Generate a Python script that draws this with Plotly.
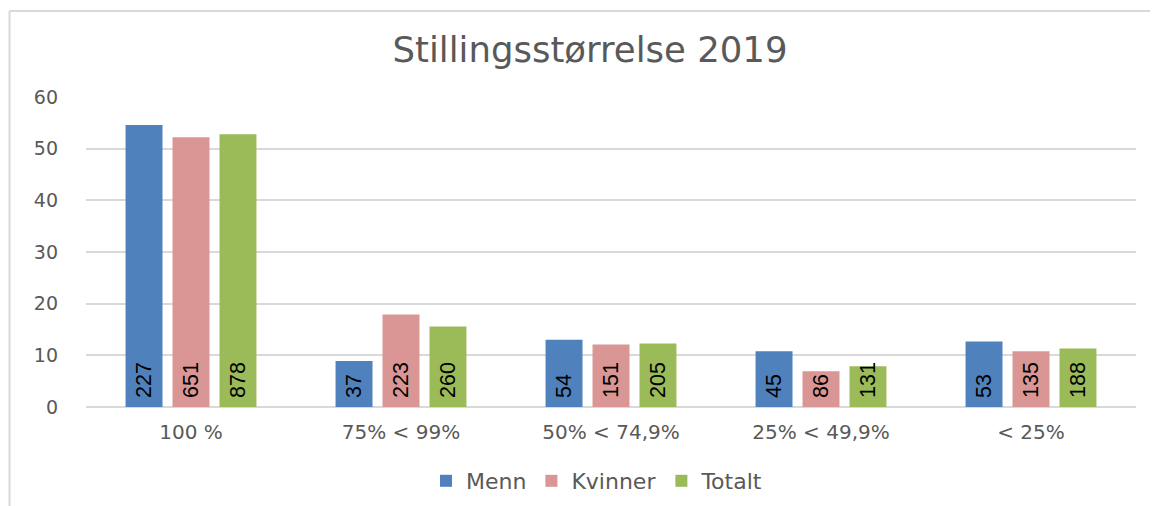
import plotly.graph_objects as go

categories = ["100 %", "75% < 99%", "50% < 74,9%", "25% < 49,9%", "< 25%"]
series_names = ["Menn", "Kvinner", "Totalt"]
menn_pct = [54.6, 8.9, 13.0, 10.8, 12.7]
kvinner_pct = [52.2, 17.9, 12.1, 6.9, 10.8]
totalt_pct = [52.8, 15.6, 12.3, 7.9, 11.3]
menn_n = [227, 37, 54, 45, 53]
kvinner_n = [651, 223, 151, 86, 135]
totalt_n = [878, 260, 205, 131, 188]
y_ticks = [0, 10, 20, 30, 40, 50, 60]
title_text = "Stillingsstørrelse 2019"

colors = ["#4F81BD", "#D99694", "#9BBB59"]
values = [menn_pct, kvinner_pct, totalt_pct]
counts = [menn_n, kvinner_n, totalt_n]

# page body has an 8px margin; work in figure coordinates
OFF = 8
W, H = 1150, 498
L, T = 86 - OFF, 97 - OFF
R = W - (1136 - OFF)
B = H - (407 - OFF)
pw, ph = W - L - R, H - T - B
base_y = 407 - OFF  # y pixel of value 0 in figure coords


def px_x(x):
    return (x - L) / pw


def px_y(y):
    return (base_y - y) / ph


fig = go.Figure()
for name, vals, cnt, col in zip(series_names, values, counts, colors):
    fig.add_trace(go.Bar(
        name=name, x=categories, y=vals, marker_color=col,
        marker_line_width=0,
        text=["\u00a0" + str(c) for c in cnt],
        textposition="inside", insidetextanchor="start", textangle=-90,
        constraintext="none",
        textfont=dict(family="Liberation Sans, Arial, sans-serif", size=21.5, color="#000000"),
        hoverinfo="skip",
    ))

grid = "#D9D9D9"
fig.update_layout(
    width=W, height=H,
    margin=dict(l=L, r=R, t=T, b=B, autoexpand=False),
    paper_bgcolor="white", plot_bgcolor="white",
    barmode="group", bargap=0.329, bargroupgap=0.213,
    title=dict(text=title_text, x=(590 - OFF) / W, xanchor="center", y=1 - (50 - OFF) / H, yanchor="middle",
               font=dict(family="DejaVu Sans", size=35.5, color="#595959")),
    font=dict(family="DejaVu Sans", color="#595959"),
    showlegend=True,
    legend=dict(orientation="h", x=px_x(597 - OFF), xanchor="center", y=px_y(481 - OFF), yanchor="middle",
                font=dict(family="DejaVu Sans", size=22, color="#595959"),
                itemsizing="constant", traceorder="normal", itemwidth=30),
    xaxis=dict(showgrid=False, showline=False, ticks="",
               tickfont=dict(family="DejaVu Sans", size=20, color="#595959"),
               ticklabelstandoff=11),
    yaxis=dict(range=[0, 60], tickvals=y_ticks, showgrid=True, gridcolor=grid, gridwidth=1.5,
               zeroline=True, zerolinecolor=grid, zerolinewidth=1.5, showline=False, ticks="",
               tickfont=dict(family="DejaVu Sans", size=19, color="#595959"),
               ticklabelstandoff=27),
    shapes=[
        dict(type="line", xref="paper", yref="paper",
             x0=px_x(9.5 - OFF), x1=px_x(W + 5), y0=px_y(11 - OFF), y1=px_y(11 - OFF),
             line=dict(color=grid, width=2)),
        dict(type="line", xref="paper", yref="paper",
             x0=px_x(9.5 - OFF), x1=px_x(9.5 - OFF), y0=px_y(11 - OFF), y1=px_y(H + 5),
             line=dict(color=grid, width=2)),
    ],
)

fig.write_html("out.html")
